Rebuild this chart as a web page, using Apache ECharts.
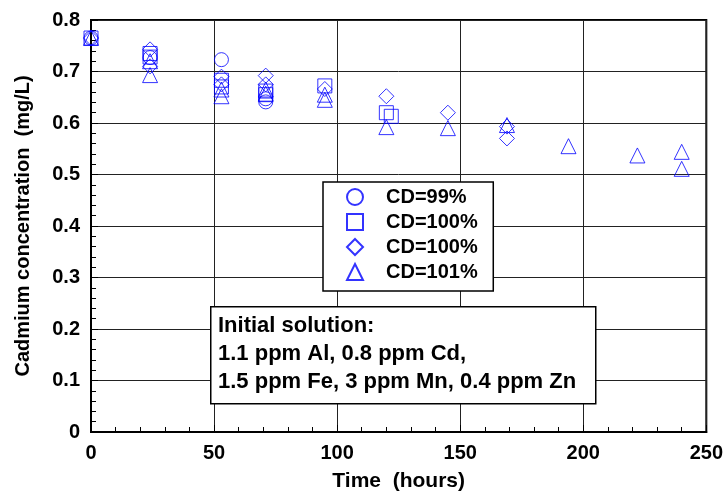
<!DOCTYPE html>
<html>
<head>
<meta charset="utf-8">
<script src="https://cdn.jsdelivr.net/npm/echarts@6/dist/echarts.min.js"></script>
<style>
  html, body { margin: 0; padding: 0; background: #fff; }
  #chart { width: 726px; height: 499px; }
</style>
</head>
<body>
<div id="chart"></div>
<script>
// 数据：时间(小时), 镉浓度(mg/L)
var cd99 = [[0, 0.765], [24, 0.727], [53, 0.723], [71, 0.641], [71, 0.647]];
var cd100a = [[0, 0.765], [24, 0.735], [24, 0.728], [53, 0.683], [53, 0.670], [71, 0.662], [71, 0.655],
  [95, 0.672], [120, 0.620], [122, 0.613]];
var cd100b = [[0, 0.765], [24, 0.743], [24, 0.710], [53, 0.690], [53, 0.675], [71, 0.692], [71, 0.675],
  [95, 0.666], [120, 0.652], [145, 0.620], [169, 0.593], [169, 0.570]];
var cd101 = [[0, 0.765], [24, 0.720], [24, 0.693], [53, 0.665], [53, 0.652], [71, 0.665], [71, 0.657],
  [95, 0.655], [95, 0.645], [120, 0.592], [145, 0.590], [169, 0.596], [194, 0.555], [222, 0.537],
  [240, 0.544], [240, 0.511]];
var seriesNames = ['CD=99%', 'CD=100%', 'CD=100% ', 'CD=101%'];
var noteLines = ['Initial solution:', '1.1 ppm Al, 0.8 ppm Cd,', '1.5 ppm Fe, 3 ppm Mn, 0.4 ppm Zn'];

var font = 'Liberation Sans, Arial, sans-serif';
var blue = '#0000ff';

function makeSeries(name, data, symbol, size) {
  return {
    name: name,
    type: 'scatter',
    data: data,
    symbol: symbol,
    symbolSize: size,
    itemStyle: { color: 'transparent', borderColor: blue, borderWidth: 1 },
    emphasis: { disabled: true }
  };
}

var chart = echarts.init(document.getElementById('chart'));
chart.setOption({
  animation: false,
  grid: {
    left: 91, right: 15, top: 20, bottom: 67,
    show: true, borderColor: '#000', borderWidth: 2
  },
  xAxis: {
    type: 'value',
    min: 0, max: 250, interval: 50,
    name: 'Time  (hours)',
    nameLocation: 'middle',
    nameGap: 39,
    nameTextStyle: { fontFamily: font, fontWeight: 'bold', fontSize: 21, color: '#000' },
    axisLine: { lineStyle: { color: '#000', width: 2 } },
    axisTick: { inside: true, length: 7, lineStyle: { color: '#000' } },
    minorTick: { show: true, splitNumber: 5, length: 5, lineStyle: { color: '#000' } },
    axisLabel: { fontFamily: font, fontWeight: 'bold', fontSize: 20, color: '#000', margin: 11 },
    splitLine: { lineStyle: { color: '#222', width: 1 } }
  },
  yAxis: {
    type: 'value',
    min: 0, max: 0.8, interval: 0.1,
    name: 'Cadmium concentration  (mg/L)',
    nameLocation: 'middle',
    nameGap: 58,
    nameTextStyle: { fontFamily: font, fontWeight: 'bold', fontSize: 20, color: '#000' },
    axisLine: { lineStyle: { color: '#000', width: 2 } },
    axisTick: { inside: true, length: 7, lineStyle: { color: '#000' } },
    minorTick: { show: true, splitNumber: 5, length: 5, lineStyle: { color: '#000' } },
    axisLabel: {
      fontFamily: font, fontWeight: 'bold', fontSize: 20, color: '#000', margin: 11,
      formatter: function (v) { return v === 0 ? '0' : v.toFixed(1); }
    },
    splitLine: { lineStyle: { color: '#222', width: 1 } }
  },
  legend: {
    orient: 'vertical',
    left: 323, top: 182,
    backgroundColor: '#fff',
    borderColor: '#000', borderWidth: 1.5,
    padding: [5, 10, 9, 23],
    itemWidth: 16, itemHeight: 16, itemGap: 5,
    textStyle: {
      fontFamily: font, fontWeight: 'bold', fontSize: 20, lineHeight: 20, color: '#000',
      padding: [0, 0, 0, 18]
    },
    data: seriesNames
  },
  graphic: [{
    type: 'rect',
    left: 210, top: 306, z: 100,
    shape: { width: 385, height: 97 },
    style: { fill: '#fff', stroke: '#000', lineWidth: 1.5 }
  }, {
    type: 'text',
    left: 218, top: 312, z: 101,
    style: {
      text: noteLines.join('\n'),
      font: 'bold 22px ' + font,
      fill: '#000',
      lineHeight: 28
    }
  }],
  series: [
    makeSeries(seriesNames[0], cd99, 'circle', 14),
    makeSeries(seriesNames[1], cd100a, 'rect', 14),
    makeSeries(seriesNames[2], cd100b, 'diamond', 15),
    makeSeries(seriesNames[3], cd101, 'triangle', 15)
  ]
});
</script>
</body>
</html>
